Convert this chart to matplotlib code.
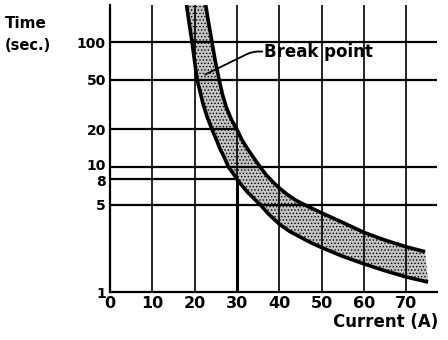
import matplotlib
matplotlib.use("Agg")
import matplotlib.pyplot as plt
import matplotlib.transforms as mtrans

# ---- data ----
lower_x = [18.0, 18.6, 19.4, 20.0, 20.6, 21.3, 22.0, 23.0, 24.1, 25.0, 26.0, 27.0, 28.0, 29.0, 30.0,
           31.2, 32.5, 34.0, 35.5, 37.5, 40.0, 42.5, 45.0, 47.5, 50.0, 55.0, 60.0, 65.0, 70.0, 75.2]
lower_y = [210, 150, 100, 70, 50, 40, 32, 25, 20, 17, 14, 12, 10, 9.0, 8.0,
           7.1, 6.3, 5.6, 5.0, 4.2, 3.5, 3.05, 2.75, 2.48, 2.27, 1.93, 1.68, 1.48, 1.32, 1.2]
upper_x = [22.5, 23.2, 24.1, 24.9, 25.8, 26.6, 27.5, 28.7, 30.0, 31.2, 32.5, 34.0, 35.5, 37.0, 38.5,
           40.0, 42.0, 44.0, 47.0, 50.0, 55.0, 60.0, 65.0, 70.0, 74.5]
upper_y = [210, 150, 100, 70, 50, 38, 30, 24, 20, 16.5, 14, 11.8, 10, 8.6, 7.6,
           6.8, 6.0, 5.4, 4.8, 4.3, 3.6, 3.0, 2.6, 2.3, 2.1]

x_ticks = [0, 10, 20, 30, 40, 50, 60, 70]
y_ticks = [1, 5, 8, 10, 20, 50, 100]
full_hlines = [100, 50, 10, 5]
short_hlines = [20, 8]
break_current = 30
break_time_low = 8

plt.rcParams['hatch.linewidth'] = 0.6
plt.rcParams['hatch.color'] = 'black'

fig = plt.figure(figsize=(4.48, 3.40), dpi=100)
ax = fig.add_axes([110/448, 48/340, 327/448, 287/340])
ax.set_yscale('log')
ax.set_xlim(0, 77.3)
ax.set_ylim(1, 198)

# grid
ax.vlines([v for v in x_ticks if v > 0], 1, 198, color='black', lw=1.2, zorder=2)
ax.vlines(break_current, 1, break_time_low, color='black', lw=2.2, zorder=2)
ax.hlines(full_hlines, 0, 77.3, color='black', lw=1.6, zorder=2)
ax.hlines(short_hlines, 0, break_current, color='black', lw=1.6, zorder=2)

# band
poly_x = upper_x + lower_x[::-1]
poly_y = upper_y + lower_y[::-1]
ax.fill(poly_x, poly_y, facecolor='#c4c4c4', hatch='.....', edgecolor='black', lw=0, zorder=1)
ax.plot(lower_x, lower_y, color='black', lw=2.6, solid_capstyle='butt', solid_joinstyle='round', zorder=3)
ax.plot(upper_x, upper_y, color='black', lw=2.6, solid_capstyle='butt', solid_joinstyle='round', zorder=3)

for s in ['top', 'right']:
    ax.spines[s].set_visible(False)
for s in ['left', 'bottom']:
    ax.spines[s].set_linewidth(1.6)

ax.set_xticks(x_ticks)
ax.set_xticklabels([str(v) for v in x_ticks])
ax.set_yticks(y_ticks)
ax.set_yticklabels([str(v) for v in y_ticks])
ax.yaxis.set_minor_locator(matplotlib.ticker.NullLocator())
ax.tick_params(length=0, pad=3)
ax.tick_params(axis='x', labelsize=11.5)
ax.tick_params(axis='y', labelsize=10)
for lab in ax.get_xticklabels() + ax.get_yticklabels():
    lab.set_fontweight('bold')

# nudge the crowded "10" and "8" labels apart slightly
fig.canvas.draw()
for lab in ax.get_yticklabels():
    if lab.get_text() == '10':
        lab.set_transform(lab.get_transform() + mtrans.ScaledTranslation(0, 1.5/72, fig.dpi_scale_trans))
    elif lab.get_text() == '8':
        lab.set_transform(lab.get_transform() + mtrans.ScaledTranslation(0, -1/72, fig.dpi_scale_trans))

fig.text(5/448, 1 - 24/340, 'Time', fontsize=11, fontweight='bold', va='center', ha='left')
fig.text(5/448, 1 - 46/340, '(sec.)', fontsize=10.5, fontweight='bold', va='center', ha='left')
fig.text(438/448, 1 - 322/340, 'Current (A)', fontsize=12, fontweight='bold', va='center', ha='right')

ax.text(36.4, 84, 'Break point', fontsize=12, fontweight='bold', va='center', ha='left')
ax.annotate('', xy=(22.5, 55), xytext=(36.0, 84),
            arrowprops=dict(arrowstyle='-', lw=1.3, color='black',
                            connectionstyle='arc,angleA=180,armA=10,angleB=25,armB=0,rad=6',
                            shrinkA=0, shrinkB=0))

fig.savefig('out.png', dpi=100)
